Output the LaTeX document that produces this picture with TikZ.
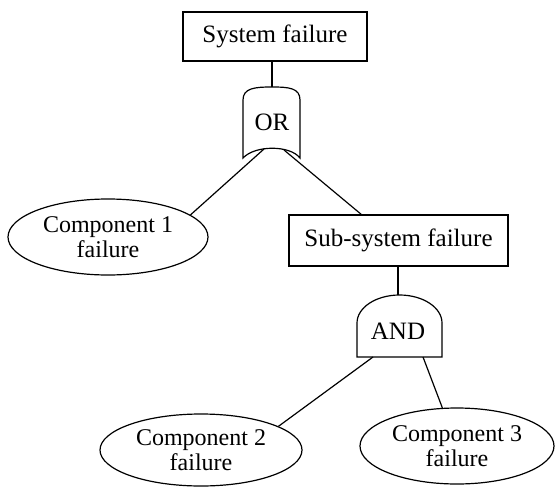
\documentclass[tikz,border=0pt]{standalone}
\usepackage{fontspec}
\setmainfont{Liberation Serif}
\usetikzlibrary{shapes.geometric,calc}

\tikzset{
    event/.style={draw, line width=1.4pt, inner sep=0pt, font=\fontsize{25}{26}\selectfont},
    basic/.style={draw, ellipse, line width=1.2pt, inner sep=0pt, align=center, font=\fontsize{24}{25}\selectfont},
    gatetext/.style={font=\fontsize{25}{26}\selectfont},
    wire/.style={line width=1.2pt}
}

\begin{document}
\begin{tikzpicture}[x=1pt, y=-1pt]
    \useasboundingbox (0,0) rectangle (556,487);

    % top event and sub-event
    \node[event, minimum width=184, minimum height=49] (sys) at (275,36.5) {System failure};
    \node[event, minimum width=219, minimum height=51] (sub) at (398.5,240.5) {Sub-system failure};

    % OR gate
    \draw[wire] (243,158) -- (243,100) .. controls (243,88) and (255,87) .. (272,87)
        .. controls (289,87) and (300,88) .. (300,100) -- (300,158)
        .. controls (290,145) and (255,145) .. cycle;
    \node[gatetext] (or) at (272,122) {OR};
    \coordinate (orIn) at (272,87);
    \coordinate (orL) at (264,149);
    \coordinate (orR) at (284,150);

    % AND gate
    \draw[wire] (357,357) -- (357,323) arc (180:360:42.5 and 28) -- (442,357) -- cycle;
    \node[gatetext] (and) at (398,331) {AND};
    \coordinate (andIn) at (398,295);
    \coordinate (andL) at (373,357);
    \coordinate (andR) at (423,357);

    % basic events
    \node[basic, minimum width=200, minimum height=76] (c1) at (108,237) {Component 1\\failure};
    \node[basic, minimum width=202, minimum height=72] (c2) at (201,450) {Component 2\\failure};
    \node[basic, minimum width=194, minimum height=76] (c3) at (457,446) {Component 3\\failure};
    \coordinate (subIn) at (362,215);

    % connectors
    \draw[wire] (sys.south -| orIn) -- (orIn);
    \draw[wire] (orL) -- (c1.15);
    \draw[wire] (orR) -- (subIn);
    \draw[wire] (sub.south -| andIn) -- (andIn);
    \draw[wire] (andL) -- (c2.17);
    \draw[wire] (andR) -- (c3.111);
\end{tikzpicture}
\end{document}
